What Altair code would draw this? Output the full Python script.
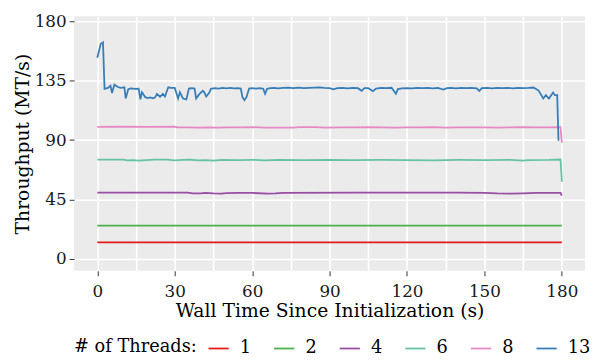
import altair as alt
import pandas as pd

threads = ["1", "2", "4", "6", "8", "13"]
colors = ["#E41A1C", "#4DAF4A", "#984EA3", "#66C2A5", "#E78AC3", "#377EB8"]
widths = [1.8, 1.8, 1.8, 1.4, 1.4, 2.6]

x_ticks = list(range(0, 181, 15))
y_ticks = [0, 45, 90, 135, 180]

t1 = [0, 180]
v1 = [12.6, 12.6]
t2 = [0, 180]
v2 = [25.2, 25.2]
t4 = [0, 35, 37, 40, 42, 45, 48, 50, 55, 60, 66, 69, 72, 100, 140, 150, 155, 160, 165, 170, 179.5, 180]
v4 = [50.2, 50.2, 49.6, 49.7, 50.1, 49.6, 49.4, 49.8, 50.1, 50.0, 49.5, 49.6, 50.1, 50.2, 50.2, 50.1, 49.6, 49.5, 49.7, 50.0, 50.1, 48.0]
t6 = [0, 10, 11.6, 14, 16, 19, 22, 27, 30, 33, 36, 39, 42, 45, 48, 55, 60, 65, 70, 80, 90, 100, 110, 120,
      130, 140, 150, 160, 165, 167, 175, 179.5, 180]
v6 = [75.3, 75.3, 74.6, 74.8, 74.4, 74.8, 75.2, 75.2, 74.7, 75.1, 75.2, 74.6, 74.8, 74.5, 75.0, 74.8, 75.1, 74.7,
      75.0, 74.9, 75.1, 74.8, 75.0, 74.9, 74.7, 75.0, 74.9, 75.0, 74.4, 74.9, 75.0, 75.3, 58.5]
t8 = [0, 10, 20, 30, 31, 35, 39, 43, 47, 50, 55, 60, 65, 70, 76, 78, 85, 88, 95, 100, 105, 110, 115, 120, 125,
      130, 135, 140, 145, 150, 155, 160, 165, 170, 175, 179.5, 180]
v8 = [100.0, 100.1, 100.0, 100.1, 99.6, 99.7, 99.4, 99.6, 99.4, 99.7, 99.6, 99.8, 99.5, 99.4, 99.5, 99.8, 99.9,
      99.5, 99.7, 99.6, 99.8, 99.6, 99.5, 99.7, 99.6, 99.8, 99.5, 99.7, 99.6, 99.7, 99.5, 99.6, 99.8, 99.6, 99.7,
      99.8, 88.0]
t13 = [0, 1.3, 2.2, 2.8, 4.1, 5.1, 5.7, 6.6, 8, 9, 10.5, 11, 12, 13, 14.5, 16, 16.7, 17.3, 18.6, 19.5, 20.5,
       21.5, 22.4, 23.1, 24.3, 25.4, 26.2, 27.5, 28.5, 30, 31.3, 32, 33.2, 34.5, 35.5, 36.5, 37.7, 38.3, 39.6,
       40.9, 41.5, 42.2, 43.4, 44, 45.5, 47, 48.5, 50, 51.5, 53, 54.5, 55.6, 56.2, 57, 57.8, 58.8, 60, 61.5, 63,
       64.3, 65, 65.8, 67, 68.5, 70, 72, 74, 76, 78, 80, 82, 84, 86, 88, 90, 91.5, 93, 95, 97, 99, 101, 102.4,
       103.5, 105, 106.8, 108, 110, 112, 114, 115.7, 116.5, 118, 120, 122, 124, 126, 128, 130, 132, 134, 135.5,
       137, 139, 141, 143, 145, 147, 148, 149, 151, 153, 155, 157, 159, 161, 163, 165, 167, 169, 171, 172.8,
       173.8, 175, 176.6, 177.3, 178.2, 178.7]
v13 = [152.3, 162.8, 164.0, 128.8, 129.5, 131.2, 125.6, 131.9, 130.2, 129.6, 130.0, 121.5, 128.6, 129.2, 128.8,
       129.0, 120.8, 126.3, 122.5, 121.8, 122.3, 121.6, 122.4, 125.0, 122.8, 125.0, 123.0, 130.0, 129.6, 129.5,
       121.5, 126.3, 121.5, 120.8, 129.0, 129.4, 129.0, 121.5, 125.0, 127.3, 126.0, 123.0, 126.0, 128.8, 129.3,
       129.0, 129.5, 129.2, 129.6, 129.1, 129.4, 129.0, 122.7, 120.3, 122.5, 129.0, 129.3, 129.0, 129.4, 128.9,
       125.0, 128.8, 129.3, 129.6, 129.2, 129.5, 129.8, 129.4, 129.7, 129.3, 129.6, 129.8, 129.9, 129.6, 129.4,
       128.5, 129.3, 129.5, 129.2, 129.6, 129.3, 127.3, 129.4, 129.3, 127.0, 129.0, 129.5, 129.3, 129.6, 125.1,
       128.6, 129.2, 129.4, 129.1, 129.5, 129.3, 129.6, 129.2, 129.5, 128.3, 129.3, 129.6, 129.2, 129.5, 129.3,
       129.6, 129.2, 127.2, 129.3, 129.5, 129.2, 129.6, 129.3, 129.5, 129.2, 129.6, 129.3, 129.5, 129.8, 127.5,
       121.5, 124.0, 121.5, 126.0, 124.0, 124.0, 89.5]

series = {"1": (t1, v1), "2": (t2, v2), "4": (t4, v4), "6": (t6, v6), "8": (t8, v8), "13": (t13, v13)}
rows = []
for k, (ts, vs) in series.items():
    for t, v in zip(ts, vs):
        rows.append({"t": t, "v": v, "threads": k})
df = pd.DataFrame(rows)

FONT = "DejaVu Serif"

chart = alt.Chart(df).mark_line().encode(
    x=alt.X("t:Q",
            scale=alt.Scale(domain=[-9, 189], nice=False, zero=False),
            axis=alt.Axis(values=x_ticks,
                          labelExpr="datum.value % 30 == 0 ? datum.label : ''",
                          tickColor={"condition": {"test": "datum.value % 30 != 0", "value": "transparent"},
                                     "value": "#333333"},
                          title="Wall Time Since Initialization (s)",
                          labelPadding=8, titlePadding=2)),
    y=alt.Y("v:Q",
            scale=alt.Scale(domain=[-8.96, 183.7], nice=False, zero=False),
            axis=alt.Axis(values=y_ticks, title="Throughput (MT/s)", titlePadding=2, labelPadding=3)),
    color=alt.Color("threads:N", sort=threads,
                    scale=alt.Scale(domain=threads, range=colors),
                    legend=alt.Legend(title="# of Threads:", orient="none", legendX=0, legendY=325,
                                      direction="horizontal", titleOrient="left",
                                      symbolType="stroke", symbolSize=420, symbolStrokeWidth=2,
                                      labelFontSize=18, titleFontSize=18, labelFont=FONT, titleFont=FONT,
                                      titleFontWeight="normal", columnPadding=18.5, labelOffset=10,
                                      titlePadding=10, titleColor="#000000", labelColor="#000000")),
    strokeWidth=alt.StrokeWidth("threads:N", scale=alt.Scale(domain=threads, range=widths), legend=None),
).properties(
    width=518, height=258,
    autosize=alt.AutoSizeParams(type="none"),
    padding={"left": 67, "top": 6, "right": 5, "bottom": 90},
).configure(
    font=FONT
).configure_view(
    fill="#EBEBEB", stroke=None
).configure_axis(
    domain=False, grid=True, gridColor="#FFFFFF", gridWidth=1.6,
    tickSize=5, tickWidth=1, tickColor="#333333",
    labelFont=FONT, labelFontSize=17, labelColor="#1A1A1A", labelPadding=4,
    titleFont=FONT, titleFontSize=19, titleFontWeight="normal", titleColor="#000000",
)

chart.save("out.html", embed_options={"renderer": "svg", "actions": False})
